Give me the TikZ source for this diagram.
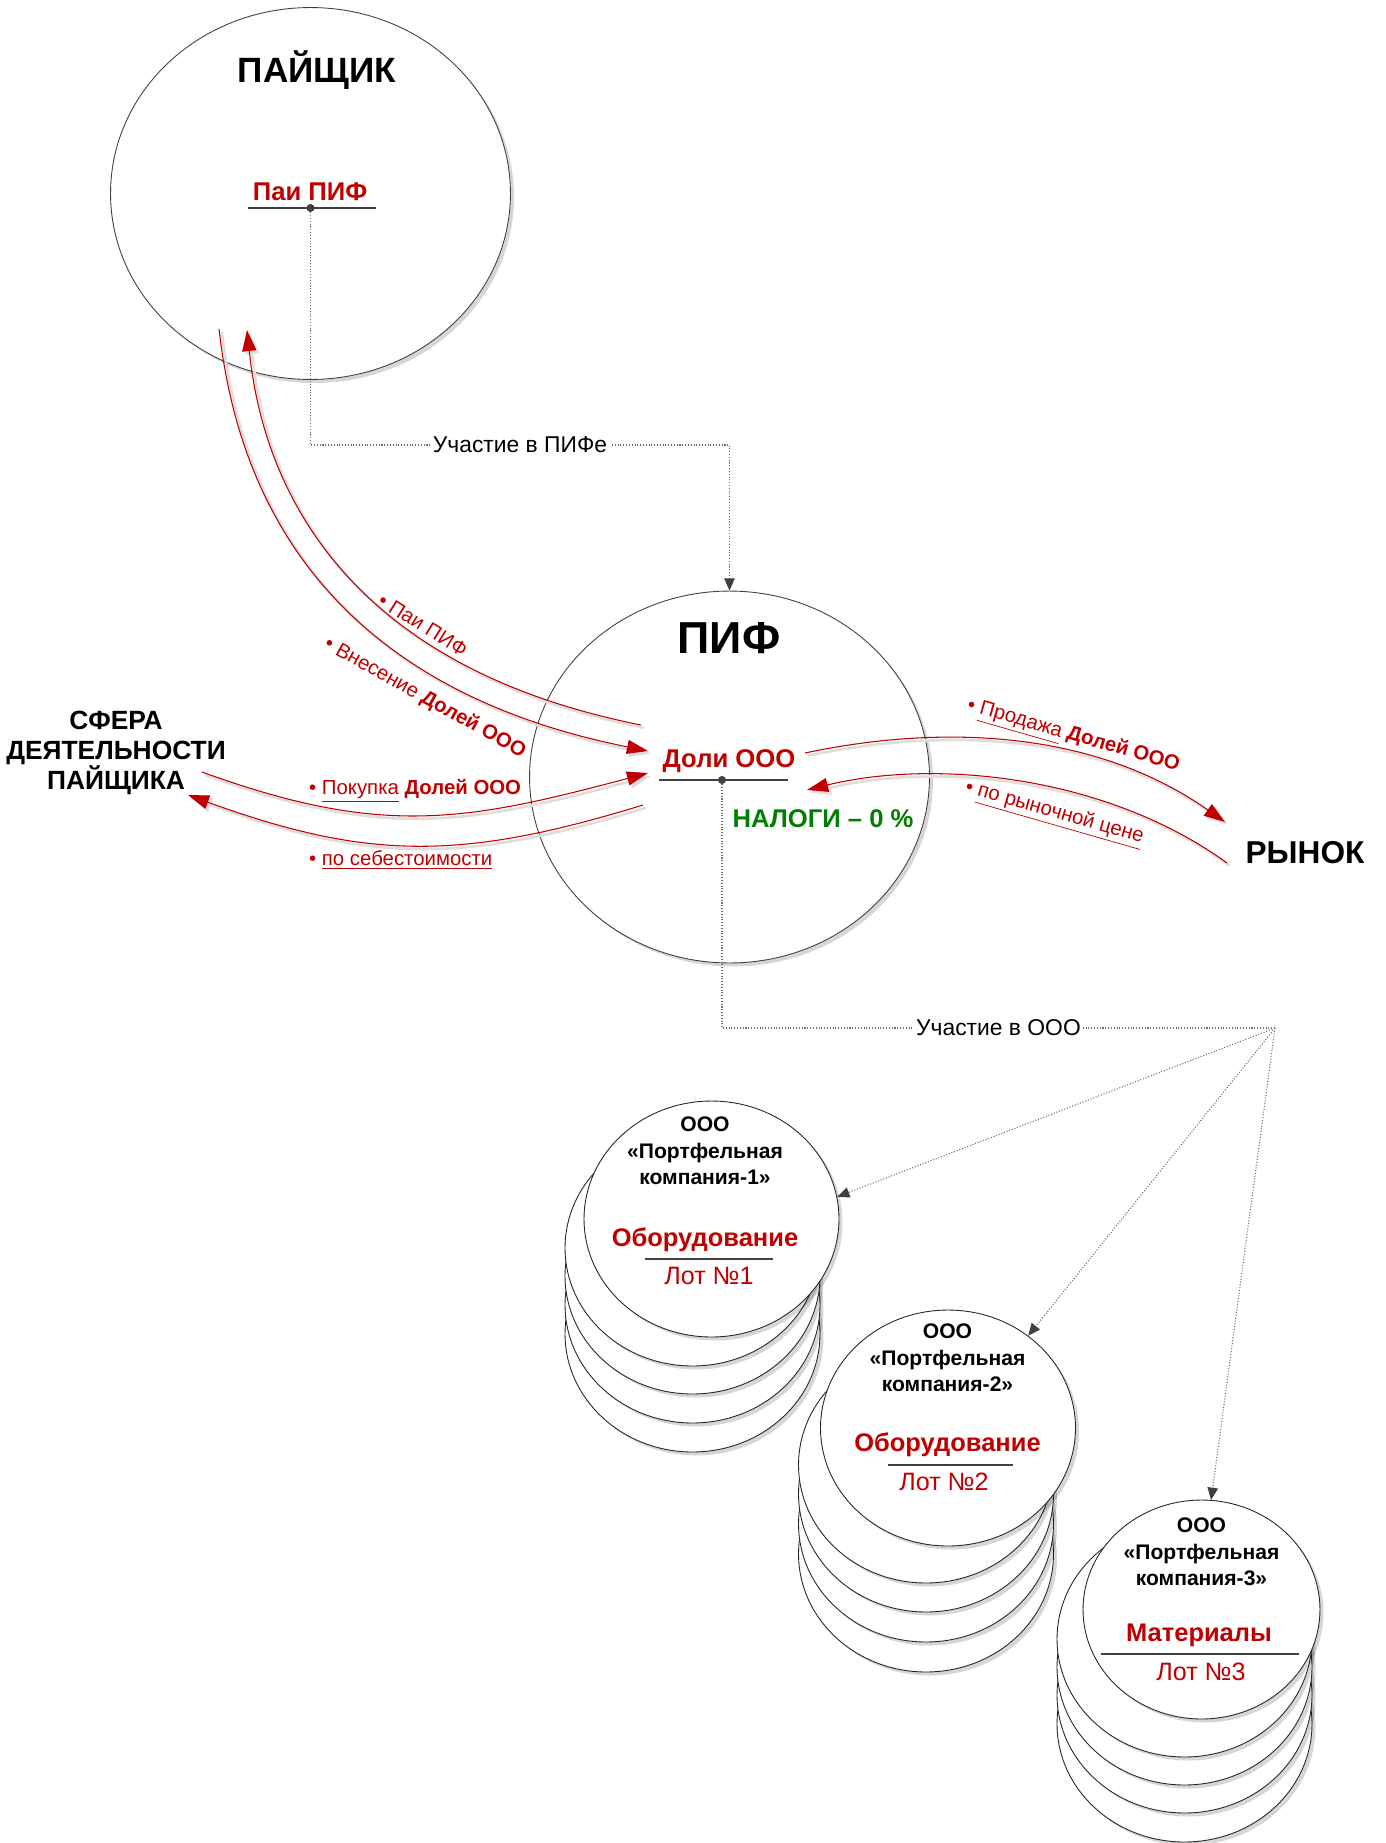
\documentclass[tikz,border=0pt]{standalone}
\usepackage{fontspec}
\setmainfont{Liberation Sans}
\usetikzlibrary{arrows.meta,shapes.geometric,shadows}
\definecolor{rd}{RGB}{192,0,0}
\definecolor{gn}{RGB}{0,128,0}
\definecolor{dg}{RGB}{64,64,64}
\definecolor{cg}{RGB}{110,110,110}
\newcommand{\fsz}[2]{\fontsize{#1pt}{#2pt}\selectfont}
\begin{document}
\begin{tikzpicture}[x=0.02cm,y=-0.02cm,
  shadowed/.style={drop shadow={shadow xshift=2pt,shadow yshift=-2pt,fill=black,opacity=0.16}},
  bigc/.style={ellipse,draw=dg,line width=0.5pt,fill=white,inner sep=0pt,minimum width=8cm,minimum height=7.44cm,shadowed},
  smc/.style={ellipse,draw=black!85,line width=0.5pt,fill=white,inner sep=0pt,minimum width=5.1cm,minimum height=4.72cm,shadowed},
  smcthree/.style={smc,minimum width=4.74cm,minimum height=4.38cm},
  dotn/.style={circle,fill=dg,inner sep=0pt,minimum size=4.6pt},
  uline/.style={dg,line width=1.1pt},
  conn/.style={cg,line width=0.6pt,densely dotted},
  connarrow/.style={conn,-{Triangle[length=7pt,width=6pt,color=dg]}},
  redflow/.style={rd,line width=0.6pt,-{Triangle[length=12pt,width=8pt]},
    preaction={draw=black!13,line width=1.5pt,transform canvas={shift={(1.6pt,-1.6pt)}}}},
  clabel/.style={fill=white,text=black,inner sep=1.5pt,font=\fsz{13}{15}},
  lbl/.style={text=rd,inner sep=1pt,font=\fsz{11.6}{14}},
  pname/.style={align=center,font=\bfseries\fsz{12}{15}},
  asset/.style={text=rd,font=\bfseries\fsz{14.5}{17}},
  lot/.style={text=rd,font=\fsz{14.3}{17}}
]
\path[use as bounding box,fill=white] (0,0) rectangle (1386,1843);

% big circles
\node[bigc] (pay) at (310.5,193.5) {};
\node[bigc] (pif) at (729.5,777) {};

% portfolio stacks
\foreach \yy [count=\i] in {1334,1305,1276,1248} {\node[smc] (gab\i) at (692.5,\yy) {};}
\node[smc] (g1) at (711.5,1219) {};
\foreach \yy [count=\i] in {1554,1524,1494,1465} {\node[smc] (gbb\i) at (926,\yy) {};}
\node[smc] (g2) at (948,1428) {};
\foreach \yy [count=\i] in {1724,1695,1667,1639} {\node[smc] (gcb\i) at (1184.5,\yy) {};}
\node[smcthree] (g3) at (1201.5,1609.5) {};

% texts in big circles
\node[font=\bfseries\fsz{20}{24}] (tPay) at (317,70) {ПАЙЩИК};
\node[font=\bfseries\fsz{14.6}{17},text=rd] (tPai) at (310,192) {Паи ПИФ};
\draw[uline] (248,208) -- (376,208);
\node[dotn] (paiDot) at (310.5,208) {};

\node[font=\bfseries\fsz{25.5}{30}] (tPif) at (729,638) {ПИФ};
\node[font=\bfseries\fsz{14.6}{17},text=rd] (tDoli) at (729,761) {Доли ООО};
\draw[uline] (659,780) -- (788,780);
\node[dotn] (doliDot) at (722,780) {};
\node[font=\bfseries\fsz{14.6}{17},text=gn] (tTax) at (823,819) {НАЛОГИ – 0 \%};

% outside texts
\node[align=center,font=\bfseries\fsz{15}{17}] (sfera) at (116,753) {СФЕРА\\ДЕЯТЕЛЬНОСТИ\\ПАЙЩИКА};
\node[font=\bfseries\fsz{18}{21}] (rynok) at (1305,853) {РЫНОК};

% portfolio texts
\node[pname] (n1) at (705,1151) {ООО\\«Портфельная\\компания-1»};
\node[asset] (a1) at (705,1240) {Оборудование};
\draw[uline,line width=0.9pt] (645,1259) -- (773,1259);
\node[lot] (l1) at (709,1276) {Лот №1};

\node[pname] (n2) at (947.5,1358) {ООО\\«Портфельная\\компания-2»};
\node[asset] (a2) at (947.5,1445) {Оборудование};
\draw[uline,line width=0.9pt] (888,1465) -- (1013,1465);
\node[lot] (l2) at (944,1482) {Лот №2};

\node[pname] (n3) at (1201.5,1552) {ООО\\«Портфельная\\компания-3»};
\node[asset] (a3) at (1199,1635) {Материалы};
\draw[uline,line width=0.9pt] (1101,1654) -- (1299,1654);
\node[lot] (l3) at (1201,1672) {Лот №3};

% dotted connectors
\coordinate (c1) at (310.5,445);
\draw[connarrow] (paiDot) -- (c1) -| node[pos=0.25,clabel] (u1) {Участие в ПИФе} (pif.north);
\coordinate (hub) at (1275,1028);
\draw[conn] (doliDot) |- node[pos=0.75,clabel] (u2) {Участие в ООО} (hub);
\draw[connarrow] (hub) -- (g1.10);
\draw[connarrow] (hub) -- (g2.49);
\draw[connarrow] (hub) -- (g3.85);

% red flows
\coordinate (paiS) at (641,725);  \coordinate (paiE) at (247,330);
\draw[redflow] (paiS) .. controls (299,657) and (258,432) .. (paiE);
\coordinate (vnS) at (219,329);   \coordinate (vnE) at (648,751);
\draw[redflow] (vnS) .. controls (233,449) and (288,679) .. (vnE);
\coordinate (pkS) at (202,772);   \coordinate (pkE) at (648,773);
\draw[redflow] (pkS) .. controls (381,837) and (464,822) .. (pkE);
\coordinate (sbS) at (643,805);   \coordinate (sbE) at (188,795);
\draw[redflow] (sbS) .. controls (461,861) and (367,860) .. (sbE);
\coordinate (prS) at (805,753);   \coordinate (prE) at (1225,822);
\draw[redflow] (prS) .. controls (942,724) and (1094,730) .. (prE);
\coordinate (rnS) at (1227,863);  \coordinate (rnE) at (807,790);
\draw[redflow] (rnS) .. controls (1105,774.5) and (933,759) .. (rnE);

% flow labels
\node[lbl,rotate=-32] (lPai) at (423,625) {• Паи ПИФ};
\node[lbl,rotate=-29] (lVn) at (425,698) {• Внесение \textbf{Долей ООО}};
\node[lbl,anchor=west] (lPok) at (307,791) {• \underline{Покупка} \textbf{Долей ООО}};
\node[lbl,anchor=west] (lSeb) at (307,860) {• \underline{по себестоимости}};
\node[lbl,rotate=-16] (lProd) at (1073,737) {• \underline{Продажа} \textbf{Долей ООО}};
\node[lbl,rotate=-16] (lRyn) at (1054,814) {• \underline{по рыночной цене}};
\end{tikzpicture}
\end{document}
